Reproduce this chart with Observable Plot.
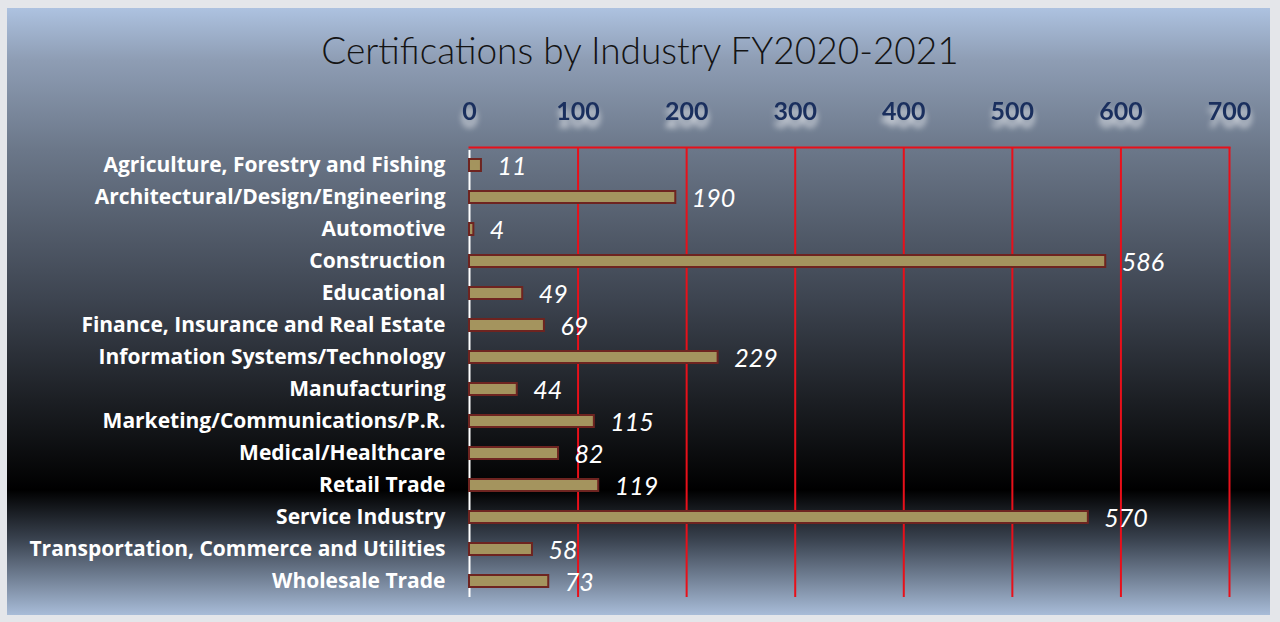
<!DOCTYPE html>
<html>
<head>
<meta charset="utf-8">
<script src="https://cdn.jsdelivr.net/npm/d3@7"></script>
<script src="https://cdn.jsdelivr.net/npm/@observablehq/plot@0.6"></script>
<style>
  html, body { margin: 0; padding: 0; background: #e4e6ea; }
  #wrap {
    position: relative; width: 1280px; height: 622px; overflow: hidden;
    background: #e4e6ea;
  }
  #panel {
    position: absolute; left: 7px; top: 8px; width: 1263px; height: 607px;
    background: linear-gradient(to bottom,
      #adc2e0 0%, #8e9db4 8.6%, #6b7789 23.4%, #3d4450 48%,
      #1c1f24 64.6%, #000000 79.4%, #3a4350 87.6%, #a8bcd8 100%);
  }
  #title {
    position: absolute; left: 0; top: 28px; width: 1280px; text-align: center;
    font-family: Lato, "Open Sans", sans-serif; font-weight: 300; font-size: 37px;
    color: #141414; line-height: 44px;
  }
  #chart { position: absolute; left: 0; top: 0; }
  .xticks text { filter: drop-shadow(0 7px 3px rgba(255,255,255,0.85)); }
</style>
</head>
<body>
<div id="wrap">
  <div id="panel"></div>
  <div id="title">Certifications by Industry FY2020-2021</div>
  <div id="chart"></div>
</div>
<script>
const industries = [
  "Agriculture, Forestry and Fishing",
  "Architectural/Design/Engineering",
  "Automotive",
  "Construction",
  "Educational",
  "Finance, Insurance and Real Estate",
  "Information Systems/Technology",
  "Manufacturing",
  "Marketing/Communications/P.R.",
  "Medical/Healthcare",
  "Retail Trade",
  "Service Industry",
  "Transportation, Commerce and Utilities",
  "Wholesale Trade"
];
const certifications = [11, 190, 4, 586, 49, 69, 229, 44, 115, 82, 119, 570, 58, 73];
const xTicks = [0, 100, 200, 300, 400, 500, 600, 700];

const data = industries.map((name, i) => ({name, value: certifications[i]}));

const chart = Plot.plot({
  width: 1280,
  height: 622,
  marginLeft: 469,
  marginRight: 51,
  marginTop: 147,
  marginBottom: 23,
  style: {background: "transparent", overflow: "visible"},
  x: {domain: [0, 700]},
  y: {domain: industries, paddingInner: 0.62, paddingOuter: 0.24},
  marks: [
    Plot.ruleX(xTicks.slice(1), {stroke: "#e8101a", strokeWidth: 2, insetBottom: 2}),
    Plot.frame({anchor: "top", stroke: "#e8101a", strokeWidth: 2}),
    Plot.ruleX([0], {stroke: "white", strokeWidth: 2, insetTop: 3, insetBottom: 2}),
    Plot.barX(data, {x: "value", y: "name", fill: "#a4945e", stroke: "#6e2420", strokeWidth: 2}),
    Plot.text(data, {
      x: "value", y: "name", text: d => String(d.value),
      dx: 16, dy: 1, textAnchor: "start", fill: "white",
      fontSize: 25, fontStyle: "italic", fontFamily: "Lato, 'Open Sans', sans-serif"
    }),
    Plot.axisX(xTicks, {
      anchor: "top", tickSize: 0, tickPadding: 28, label: null,
      fontSize: 25, fontWeight: "bold", fill: "#1a2f5e",
      fontFamily: "Lato, 'Open Sans', sans-serif", className: "xticks"
    }),
    Plot.axisY({
      anchor: "left", tickSize: 0, tickPadding: 24, label: null,
      fontSize: 21, fontWeight: "bold", fill: "white",
      fontFamily: "'Open Sans', Lato, sans-serif"
    })
  ]
});
document.getElementById("chart").appendChild(chart);
</script>
</body>
</html>
